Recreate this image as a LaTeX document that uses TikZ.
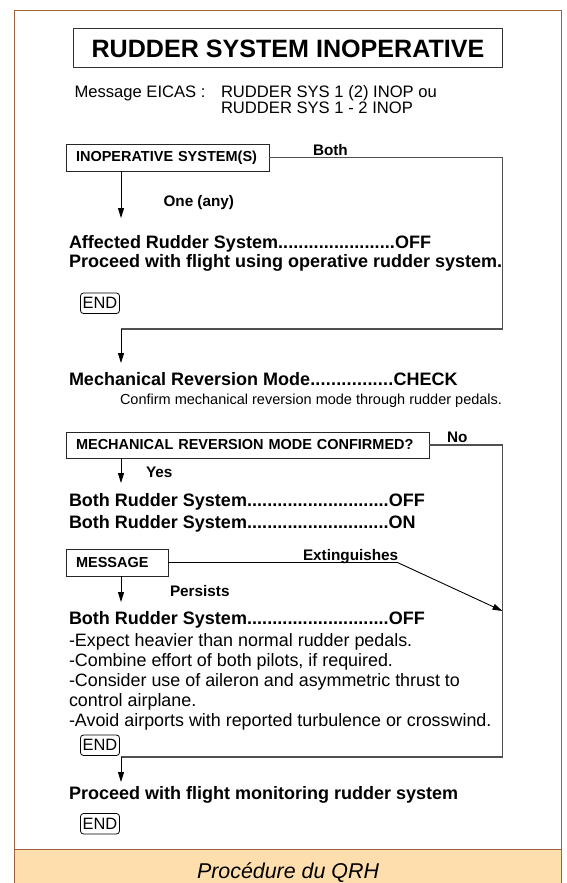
\documentclass[tikz,border=0pt]{standalone}
\usepackage{fontspec}
\setmainfont{Liberation Sans}
\usetikzlibrary{arrows.meta}
\definecolor{framec}{HTML}{A0603C}
\definecolor{bandc}{HTML}{FFDEAD}
\definecolor{connc}{HTML}{505050}
\newcommand\fsz[1]{\fontsize{#1}{#1}\selectfont}
\newcommand\dotl[3]{\makebox[#1][l]{#2\xleaders\hbox{.}\hfill #3}}
\begin{document}
\begin{tikzpicture}[x=1pt,y=-1pt,
  every node/.style={inner sep=0pt,outer sep=0pt},
  bold/.style={anchor=base west,font=\fsz{18}\bfseries},
  reg/.style={anchor=base west,font=\fsz{17.9}},
  lab/.style={anchor=base west,font=\fsz{15.3}\bfseries},
  msg/.style={anchor=base west,font=\fsz{16.6}},
  qbox/.style={draw=black!85,line width=0.9pt,anchor=north west,inner xsep=10pt,align=left,font=\fsz{14.5}\bfseries},
  endbox/.style={draw=black,rounded corners=3pt,line width=0.8pt,minimum width=39pt,minimum height=20.5pt,anchor=north west,font=\fsz{16.4}},
  conn/.style={draw=connc,line width=1.2pt},
  arr/.style={draw=black,line width=0.9pt,-{Triangle[length=10pt,width=6pt]}},
]
\useasboundingbox (0,0) rectangle (566,883);
% frame and band
\fill[white] (14.5,10.5) rectangle (561,900);
\fill[bandc] (14.5,849) rectangle (561,900);
\draw[framec,line width=1pt] (14.5,900) -- (14.5,10.5) -- (561,10.5) -- (561,900);
\draw[framec,line width=1pt] (14.5,849) -- (561,849);
\node[anchor=base,font=\fsz{21.4}\itshape] (qrh) at (288,878) {Procédure du QRH};
% title
\node[draw=black!80,line width=1pt,minimum width=429pt,minimum height=39pt,font=\fsz{25.1}\bfseries] (title) at (288,48.5) {RUDDER SYSTEM INOPERATIVE};
\node[msg] (m0) at (74.5,97.5) {Message EICAS :};
\node[msg] (m1) at (221,97.5) {RUDDER SYS 1 (2) INOP ou};
\node[msg] (m2) at (221,113.5) {RUDDER SYS 1 - 2 INOP};
% first question
\node[qbox,text width=183pt,minimum height=27pt] (inop) at (66,144) {\mbox{INOPERATIVE SYSTEM(S)}};
\node[lab] (lboth) at (313,155) {Both};
\node[lab] (lone) at (163.5,206.5) {One (any)};
\coordinate (inopd) at (121,218);
\draw[arr] (inop.south -| inopd) -- (inopd);
\node[bold] (aff) at (69,248) {\dotl{362pt}{Affected Rudder System}{OFF}};
\node[bold] (proc1) at (69,267) {Proceed with flight using operative rudder system.};
\node[endbox] (end1) at (80.5,293) {END};
\coordinate (c1) at (502.5,157.5);
\coordinate (c2) at (502.5,329);
\coordinate (c3) at (121,329);
\coordinate (c4) at (121,363);
\draw[conn] (inop.east) -- (c1) -- (c2) -- (c3);
\draw[arr] (c3) -- (c4);
% mechanical reversion
\node[bold] (mrm) at (69,385.5) {\dotl{388.5pt}{Mechanical Reversion Mode}{CHECK}};
\node[anchor=base west,font=\fsz{14.5}] (conf) at (120,404) {Confirm mechanical reversion mode through rudder pedals.};
\node[qbox,text width=343pt,minimum height=26pt] (mech) at (66,432) {\mbox{MECHANICAL REVERSION MODE CONFIRMED?}};
\node[lab] (lno) at (447,442.5) {No};
\node[lab] (lyes) at (146,477.5) {Yes};
\coordinate (mechd) at (121,483);
\draw[arr] (mech.south -| mechd) -- (mechd);
\node[bold] (b1) at (69,506.5) {\dotl{355.7pt}{Both Rudder System}{OFF}};
\node[bold] (b2) at (69,528.5) {\dotl{346.6pt}{Both Rudder System}{ON}};
% message
\node[qbox,text width=82pt,minimum height=27pt] (mess) at (66,549) {MESSAGE};
\node[lab] (lext) at (303,560.5) {Extinguishes};
\node[lab] (lpers) at (170,596.5) {Persists};
\coordinate (messd) at (121,602);
\draw[arr] (mess.south -| messd) -- (messd);
\coordinate (e1) at (397.5,562.5);
\coordinate (e2) at (502.5,611);
\draw[line width=0.9pt] (mess.east) -- (e1);
\draw[arr] (e1) -- (e2);
\node[bold] (b3) at (69,624.5) {\dotl{355.7pt}{Both Rudder System}{OFF}};
\node[reg] (r1) at (69,646.5) {-Expect heavier than normal rudder pedals.};
\node[reg] (r2) at (69,666.5) {-Combine effort of both pilots, if required.};
\node[reg] (r3) at (69,686.5) {-Consider use of aileron and asymmetric thrust to};
\node[reg] (r4) at (69,706.5) {control airplane.};
\node[reg] (r5) at (69,726.5) {-Avoid airports with reported turbulence or crosswind.};
\node[endbox] (end2) at (80.5,735) {END};
\coordinate (d1) at (502.5,445);
\coordinate (d2) at (502.5,757);
\coordinate (d3) at (121,757);
\coordinate (d4) at (121,782);
\draw[conn] (mech.east) -- (d1) -- (d2) -- (d3);
\draw[arr] (d3) -- (d4);
\node[bold] (proc2) at (69,799.5) {Proceed with flight monitoring rudder system};
\node[endbox] (end3) at (80.5,813.5) {END};
\end{tikzpicture}
\end{document}
